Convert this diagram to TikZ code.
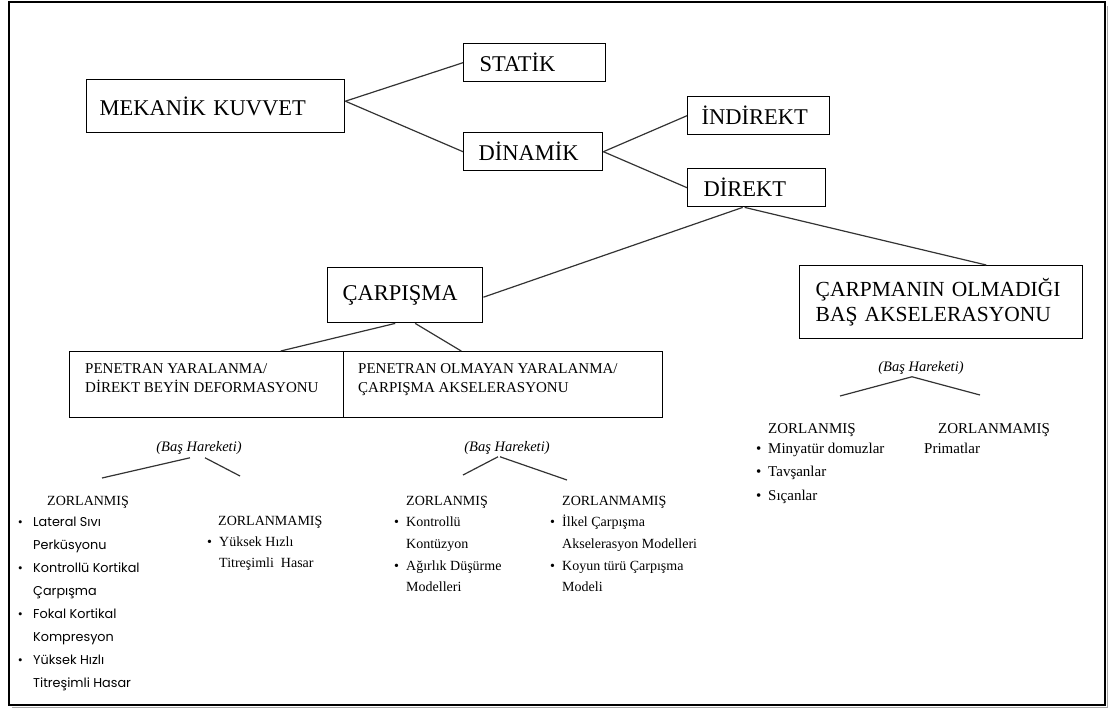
\documentclass[tikz,border=0pt]{standalone}
\usepackage{fontspec}
\setmainfont{Liberation Serif}
\newfontfamily\gothic{Poppins}
\usetikzlibrary{calc}
\newcommand{\fsz}[2]{\fontsize{#1}{#2}\selectfont}
\newcommand{\tl}{\rule{0pt}{20pt}}
\newcommand{\bulg}{\makebox[15pt][l]{\rmfamily\textbullet}}
\newcommand{\nobg}{\hspace*{15pt}}
\newcommand{\bulr}{\makebox[12pt][l]{\textbullet}}
\newcommand{\nobr}{\hspace*{12pt}}
\begin{document}
\begin{tikzpicture}[x=1pt,y=-1pt,
  bx/.style={draw=black, line width=1.4pt, anchor=north west, inner ysep=0pt, align=left},
  plainbox/.style={draw=black, line width=1.4pt, anchor=north west, inner sep=0pt},
  big/.style={font=\fsz{22.5}{25}},
  conn/.style={draw=black!80, line width=1.2pt},
  txt/.style={inner sep=0pt, anchor=west},
  lst/.style={inner sep=0pt, anchor=north west, align=left}
]
\useasboundingbox (0,0) rectangle (1115,709);
\draw[black!35, line width=1.6pt] (12,707.3) -- (1107.3,707.3) -- (1107.3,6);
\draw[line width=2.2pt] (9,2) rectangle (1105,705);

% main boxes
\node[bx, big, minimum width=258pt, minimum height=53pt, text width=232pt, inner xsep=13pt] (mek) at (86,79) {MEKANİK KUVVET};
\node[bx, big, minimum width=142pt, minimum height=38pt, text width=110pt, inner xsep=16pt] (statik) at (463,43) {STATİK};
\node[bx, big, minimum width=139pt, minimum height=38pt, text width=109pt, inner xsep=15pt] (dinamik) at (463,132) {DİNAMİK};
\node[bx, big, minimum width=142pt, minimum height=38pt, text width=114pt, inner xsep=14pt] (indirekt) at (687,96) {İNDİREKT};
\node[bx, big, minimum width=138pt, minimum height=38pt, text width=106pt, inner xsep=16pt] (direkt) at (687,168) {DİREKT};
\node[bx, big, minimum width=155pt, minimum height=55pt, text width=125pt, inner xsep=15pt] (carpisma) at (327,267) {ÇARPIŞMA};
\node[bx, font=\fsz{21.5}{25}, minimum width=283pt, minimum height=73pt, text width=251pt, inner xsep=16pt] (carpmanin) at (799,265) {ÇARPMANIN OLMADIĞI\\BAŞ AKSELERASYONU};
\node[plainbox, minimum width=274pt, minimum height=66pt] (pen1) at (69,351) {};
\node[plainbox, minimum width=319pt, minimum height=66pt] (pen2) at (343,351) {};
\node[lst, font=\fsz{15}{19}] (pen1t) at (85,353) {\tl PENETRAN YARALANMA/\\DİREKT BEYİN DEFORMASYONU};
\node[lst, font=\fsz{15}{19}] (pen2t) at (358,353) {\tl PENETRAN OLMAYAN YARALANMA/\\ÇARPIŞMA AKSELERASYONU};

% connectors
\draw[conn] ([yshift=5pt]mek.east) -- (statik.west);
\draw[conn] ([yshift=5pt]mek.east) -- (dinamik.west);
\draw[conn] (dinamik.east) -- (indirekt.west);
\draw[conn] (dinamik.east) -- (direkt.west);
\draw[conn] ([xshift=-14pt]direkt.south) -- ([yshift=-2pt]carpisma.east);
\draw[conn] ([xshift=-12pt]direkt.south) -- ([xshift=45pt]carpmanin.north);
\draw[conn] ([xshift=-10pt]carpisma.south) -- ([xshift=74pt]pen1.north);
\draw[conn] ([xshift=10pt]carpisma.south) -- ([xshift=-42pt]pen2.north);

% Bas Hareketi groups
\node[inner sep=0pt, font=\fsz{14.5}{16}\itshape] (bh1) at (199,448) {(Baş Hareketi)};
\node[inner sep=0pt, font=\fsz{14.5}{16}\itshape] (bh2) at (507,448) {(Baş Hareketi)};
\node[inner sep=0pt, font=\fsz{14.5}{16}\itshape] (bh3) at (921,368) {(Baş Hareketi)};
\coordinate (e1a) at (102,478);
\coordinate (e1b) at (240,476);
\coordinate (e2a) at (463,475);
\coordinate (e2b) at (567,480);
\coordinate (e3a) at (840,396);
\coordinate (e3b) at (980,395);
\draw[conn] ($(bh1.south)+(-9,3)$) -- (e1a);
\draw[conn] ($(bh1.south)+(6,3)$) -- (e1b);
\draw[conn] ($(bh2.south)+(-9,2)$) -- (e2a);
\draw[conn] ($(bh2.south)+(-7,2)$) -- (e2b);
\draw[conn] ($(bh3.south)+(-9,2)$) -- (e3a);
\draw[conn] ($(bh3.south)+(-9,2)$) -- (e3b);

% left group
\node[txt, font=\fsz{14}{16}] (z1) at (47,502) {ZORLANMIŞ};
\node[lst, font=\gothic\fsz{12.8}{22.9}] (l1) at (18,506.5) {\tl\bulg Lateral Sıvı\\\nobg Perküsyonu\\\bulg Kontrollü Kortikal\\\nobg Çarpışma\\\bulg Fokal Kortikal\\\nobg Kompresyon\\\bulg Yüksek Hızlı\\\nobg Titreşimli Hasar};
\node[txt, font=\fsz{14}{16}] (z2) at (218,522) {ZORLANMAMIŞ};
\node[lst, font=\fsz{14}{21}] (l2) at (207,526.6) {\tl\bulr Yüksek Hızlı\\\nobr Titreşimli\ \ Hasar};

% middle group
\node[txt, font=\fsz{14}{16}] (z3) at (406,502) {ZORLANMIŞ};
\node[lst, font=\fsz{14}{21.7}] (l3) at (394,506.6) {\tl\bulr Kontrollü\\\nobr Kontüzyon\\\bulr Ağırlık Düşürme\\\nobr Modelleri};
\node[txt, font=\fsz{14}{16}] (z4) at (562,502) {ZORLANMAMIŞ};
\node[lst, font=\fsz{14}{21.7}] (l4) at (550,506.6) {\tl\bulr İlkel Çarpışma\\\nobr Akselerasyon Modelleri\\\bulr Koyun türü Çarpışma\\\nobr Modeli};

% right group
\node[txt, font=\fsz{15}{17}] (z5) at (768,430) {ZORLANMIŞ};
\node[lst, font=\fsz{15}{23.5}] (l5) at (756,433) {\tl\bulr Minyatür domuzlar\\\bulr Tavşanlar\\\bulr Sıçanlar};
\node[txt, font=\fsz{15}{17}] (z6) at (938,430) {ZORLANMAMIŞ};
\node[txt, font=\fsz{15}{17}] (p6) at (924,448) {Primatlar};
\end{tikzpicture}
\end{document}
